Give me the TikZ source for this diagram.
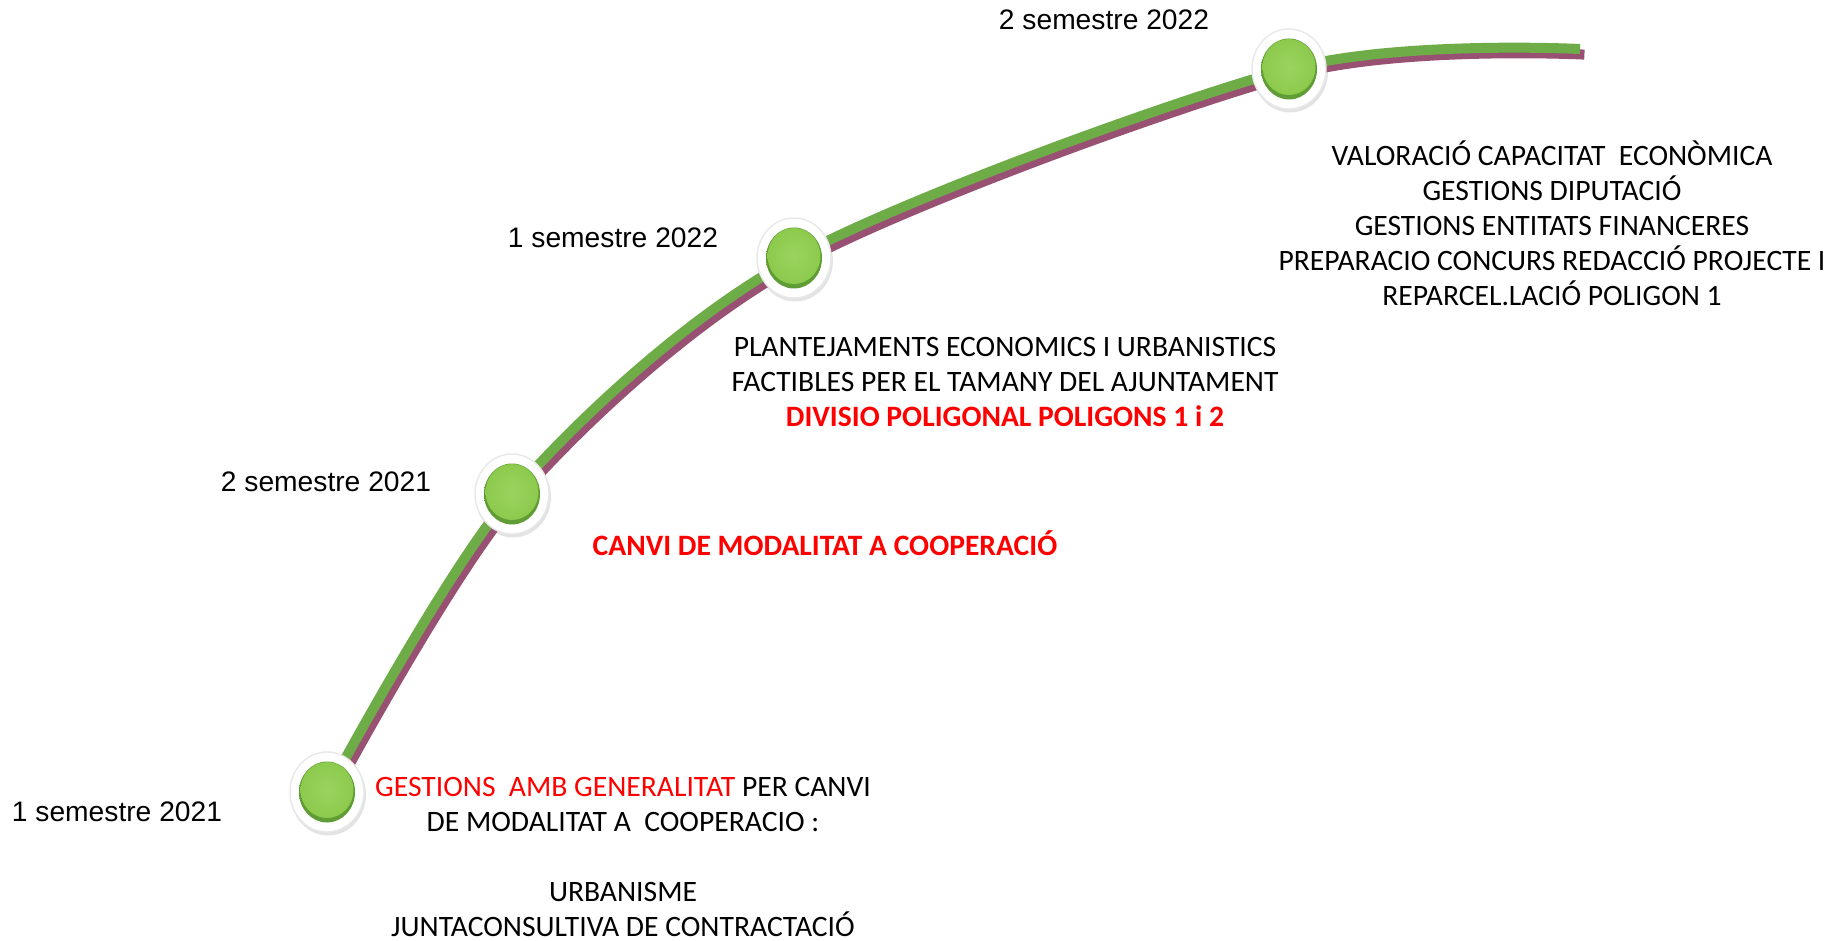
\documentclass[tikz,border=0pt]{standalone}
\usepackage{fontspec}
\setmainfont{Carlito}
\newfontfamily\arialfont{Liberation Sans}
\usetikzlibrary{shadows,shapes.geometric}

\definecolor{linegreen}{HTML}{6EAC47}
\definecolor{linepurple}{HTML}{985173}
\definecolor{ballgreen}{HTML}{92D050}
\definecolor{ballrim}{HTML}{5E9B34}
\definecolor{notered}{HTML}{FF0000}

\tikzset{
  datelabel/.style={font=\arialfont\fontsize{14.1}{17}\selectfont, inner sep=0pt},
  notetext/.style={font=\fontsize{14.8}{17.5}\selectfont, align=center, inner sep=0pt},
  milestone/.style={ellipse, fill=white, draw=black!9, line width=0.7pt,
    minimum width=37pt, minimum height=40pt, inner sep=0pt,
    drop shadow={shadow xshift=0.6pt, shadow yshift=-1.3pt, shadow scale=1.02, opacity=.22}},
  ball/.style={ellipse, minimum width=28pt, minimum height=30.5pt, inner sep=0pt,
    inner color=ballrim!70!ballgreen, outer color=ballrim},
  ballface/.style={ellipse, minimum width=26.5pt, minimum height=28pt, inner sep=0pt,
    inner color=ballgreen!92!white, outer color=ballgreen!88!ballrim}
}

\begin{document}
\begin{tikzpicture}[x=0.5pt,y=-0.5pt]
  \useasboundingbox[fill=white] (0,0) rectangle (1837,941);
  % points on the time line
  \coordinate (p1) at (327,792);
  \coordinate (p2) at (512,494);
  \coordinate (p3) at (794,258);
  \coordinate (p4) at (1289,69);
  \coordinate (p5) at (1580,49);
  \draw[linepurple, line width=5pt, transform canvas={xshift=2.2pt,yshift=-2.8pt}]
    plot[smooth] coordinates {(p1) (p2) (p3) (p4) (p5)};
  \draw[linegreen, line width=5pt]
    plot[smooth] coordinates {(p1) (p2) (p3) (p4) (p5)};
  \foreach \i in {1,...,4} {
    \node[milestone] (m\i) at (p\i) {};
    \node[ball] (b\i) at (p\i) {};
    \node[ballface] (f\i) at ([yshift=1pt]p\i) {};
  }
  % dates
  \node[datelabel] (d1) at (117,812) {1 semestre 2021};
  \node[datelabel] (d2) at (326,482) {2 semestre 2021};
  \node[datelabel] (d3) at (613,238) {1 semestre 2022};
  \node[datelabel] (d4) at (1104,20) {2 semestre 2022};
  % notes
  \node[notetext, anchor=north] (n1) at (623,777)
    {\textcolor{notered}{GESTIONS\ \ AMB GENERALITAT} PER CANVI\\
     DE MODALITAT A\ \ COOPERACIO :\\[17.5pt]
     URBANISME\\
     JUNTACONSULTIVA DE CONTRACTACIÓ};
  \node[notetext, anchor=base, text=notered, font=\bfseries\fontsize{14.8}{17.5}\selectfont] (n2) at (825,555)
    {CANVI DE MODALITAT A COOPERACIÓ};
  \node[notetext, anchor=north] (n3) at (1005,337)
    {PLANTEJAMENTS ECONOMICS I URBANISTICS\\
     FACTIBLES PER EL TAMANY DEL AJUNTAMENT\\
     \textcolor{notered}{\bfseries DIVISIO POLIGONAL POLIGONS 1 i 2}};
  \node[notetext, anchor=north] (n4) at (1552,140)
    {VALORACIÓ CAPACITAT\ \ ECONÒMICA\\
     GESTIONS DIPUTACIÓ\\
     GESTIONS ENTITATS FINANCERES\\
     PREPARACIO CONCURS REDACCIÓ PROJECTE I\\
     REPARCEL.LACIÓ POLIGON 1};
\end{tikzpicture}
\end{document}
